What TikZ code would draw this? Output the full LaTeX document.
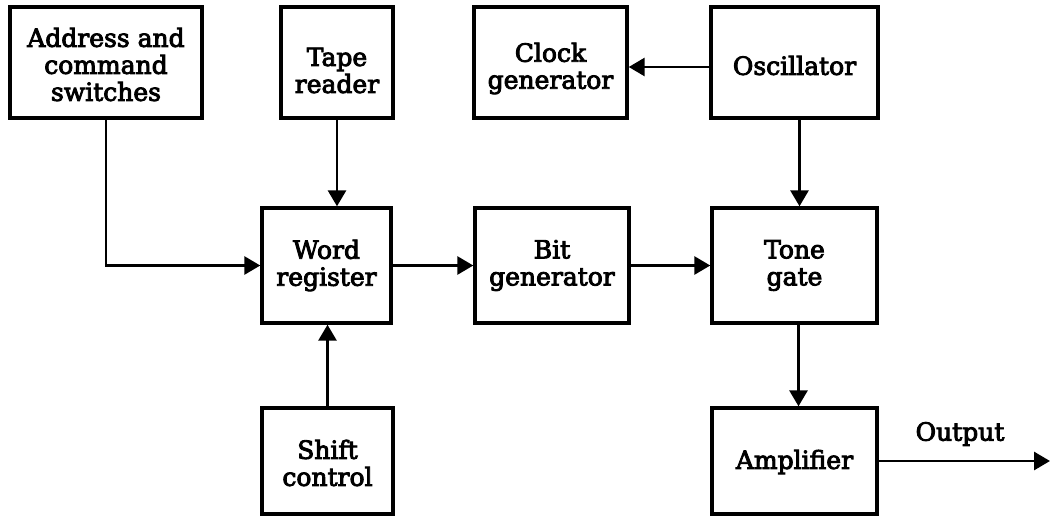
\documentclass[tikz,border=0pt]{standalone}
\usepackage{fontspec}
\setmainfont{DejaVu Serif}
\newfontfamily\heavyserif{DejaVu Serif}[FakeBold=3.5]
\usetikzlibrary{arrows.meta}
\begin{document}
\begin{tikzpicture}[x=1pt,y=-1pt,
  blk/.style={draw, line width=3.4pt, inner sep=0pt},
  txt/.style={align=center, inner sep=0pt, font=\heavyserif\fontsize{25}{27}\selectfont},
  arr/.style={line width=2.9pt, -{Triangle[length=16pt,width=18pt]}}]
\useasboundingbox (0,0) rectangle (1050,517);
\node[blk, minimum width=192pt, minimum height=111pt, label={[txt,yshift=-2pt]center:{Address and\\command\\switches}}] (addr) at (106,62.5) {};
\node[blk, minimum width=112pt, minimum height=111pt, label={[txt,yshift=-8pt]center:{Tape\\reader}}] (tape) at (337,62.5) {};
\node[blk, minimum width=153pt, minimum height=111pt, label={[txt,yshift=-6pt]center:{Clock\\generator}}] (clock) at (550.5,62.5) {};
\node[blk, minimum width=167pt, minimum height=111pt, label={[txt,yshift=-3pt]center:{Oscillator}}] (osc) at (794.5,62.5) {};
\node[blk, minimum width=129pt, minimum height=115pt, label={[txt]center:{Word\\register}}] (word) at (326.5,265.5) {};
\node[blk, minimum width=154pt, minimum height=115pt, label={[txt]center:{Bit\\generator}}] (bit) at (552,265.5) {};
\node[blk, minimum width=165pt, minimum height=115pt, label={[txt]center:{Tone\\gate}}] (tone) at (794.5,265.5) {};
\node[blk, minimum width=131pt, minimum height=106pt, label={[txt,yshift=-2pt]center:{Shift\\control}}] (shift) at (327.5,461) {};
\node[blk, minimum width=165pt, minimum height=106pt, label={[txt,yshift=-1pt]center:{Amplifier}}] (amp) at (794.5,461) {};
\coordinate (out) at (1050,461);
\node[txt] (outlbl) at (960,434) {Output};
\draw[arr] (addr.south) |- (word.west);
\draw[arr] (tape.south) -- (tape.south |- word.north);
\draw[arr] (shift.north) -- (shift.north |- word.south);
\draw[arr] ([yshift=-4.5pt]osc.west) -- ([yshift=-4.5pt]osc.west -| clock.east);
\draw[arr] (word.east) -- (bit.west);
\draw[arr] (bit.east) -- (tone.west);
\draw[arr] ([xshift=5pt]osc.south) -- ([xshift=5pt]osc.south |- tone.north);
\draw[arr] ([xshift=4pt]tone.south) -- ([xshift=4pt]tone.south |- amp.north);
\draw[arr] (amp.east) -- (out);
\end{tikzpicture}
\end{document}
